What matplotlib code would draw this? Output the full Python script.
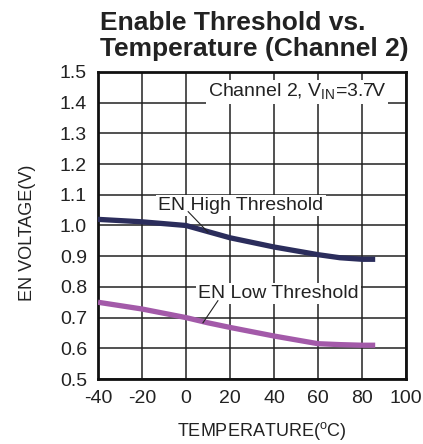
import matplotlib
matplotlib.use("Agg")
import matplotlib.pyplot as plt

plt.rcParams['font.family'] = ['Liberation Sans', 'DejaVu Sans']

# data
temps = [-40, -20, 0, 10, 20, 40, 60, 70, 80, 86]
en_high = [1.02, 1.012, 1.0, 0.98, 0.96, 0.93, 0.905, 0.895, 0.89, 0.89]
en_low = [0.75, 0.728, 0.70, 0.683, 0.668, 0.64, 0.615, 0.612, 0.61, 0.61]
x_ticks = [-40, -20, 0, 20, 40, 60, 80, 100]
y_ticks = [0.5, 0.6, 0.7, 0.8, 0.9, 1.0, 1.1, 1.2, 1.3, 1.4, 1.5]

fig = plt.figure(figsize=(4.23, 4.44), dpi=100)
ax = fig.add_axes([98/423, 1 - 379/444, 308/423, 307/444])

ax.plot(temps, en_high, color='#2b2d5c', lw=3.8, solid_capstyle='butt', zorder=3)
ax.plot(temps, en_low, color='#a35aa9', lw=3.8, solid_capstyle='butt', zorder=3)

ax.set_xlim(-40, 100)
ax.set_ylim(0.5, 1.5)
ax.set_xticks(x_ticks)
ax.set_yticks(y_ticks)
ax.set_xticklabels([str(t) for t in x_ticks])
ax.set_yticklabels(['%.1f' % v for v in y_ticks])
ax.tick_params(length=0, labelsize=14, colors='#222222', pad=8)
ax.grid(True, color='#222222', lw=1.1)
ax.set_axisbelow(True)
for s in ax.spines.values():
    s.set_linewidth(2)
    s.set_color('#111111')

box = dict(facecolor='white', edgecolor='none', pad=1.5)
ax.text(50.5, 1.435, 'Channel 2, V$_\\mathregular{IN}$=3.7V', ha='center', va='center',
        fontsize=14, color='#222222', bbox=box, zorder=4)
ax.text(25, 1.065, 'EN High Threshold', ha='center', va='center',
        fontsize=14, color='#222222', bbox=box, zorder=4)
ax.text(42, 0.778, 'EN Low Threshold', ha='center', va='center',
        fontsize=14, color='#222222', bbox=box, zorder=4)
ax.plot([1, 10], [1.045, 0.978], color='#222222', lw=0.8, zorder=5)
ax.plot([14.5, 7.7], [0.755, 0.683], color='#222222', lw=0.8, zorder=5)

fig.text(100/423, 1 - 30/444, 'Enable Threshold vs.', fontsize=19, fontweight='bold',
         color='#222222', va='baseline')
fig.text(100/423, 1 - 56/444, 'Temperature (Channel 2)', fontsize=19, fontweight='bold',
         color='#222222', va='baseline')
fig.text(28/423, 1 - 233/444, 'EN VOLTAGE(V)', rotation=90, ha='center', va='center',
         fontsize=13, color='#222222')
fig.text(262/423, 1 - 431/444, 'TEMPERATURE($^\\mathregular{o}$C)', ha='center', va='center',
         fontsize=13, color='#222222')

fig.savefig('out.png', dpi=100)
